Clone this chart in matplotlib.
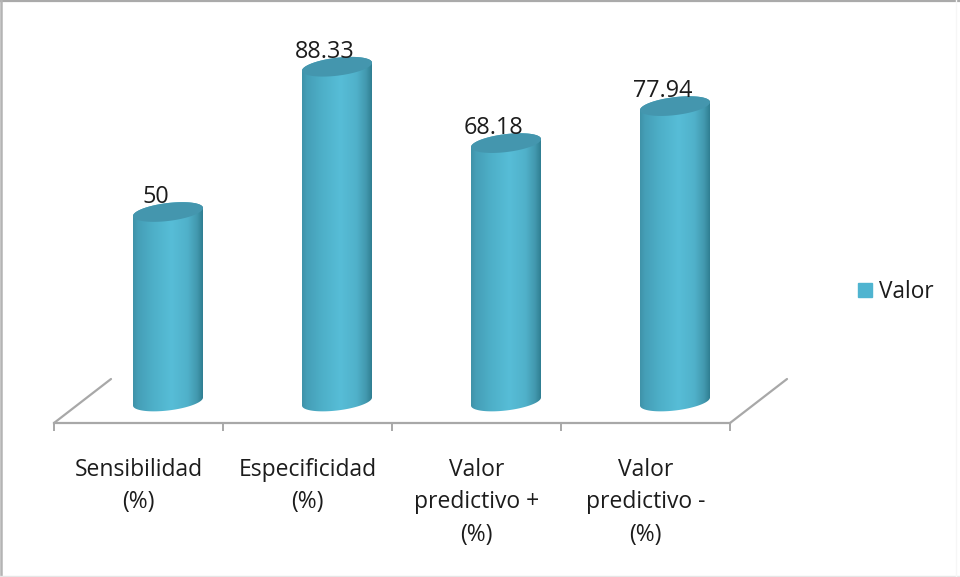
import numpy as np
import matplotlib
matplotlib.use("Agg")
import matplotlib.pyplot as plt
from matplotlib.colors import LinearSegmentedColormap
from matplotlib.lines import Line2D
from matplotlib.patches import Patch, Polygon

categories = ["Sensibilidad\n(%)", "Especificidad\n(%)", "Valor\npredictivo +\n(%)", "Valor\npredictivo -\n(%)"]
values = [50, 88.33, 68.18, 77.94]
value_labels = ["50", "88.33", "68.18", "77.94"]
series_name = "Valor"

W, H = 960, 577
PX_X = 169.0          # pixels per category
PX_Y = 3.79           # pixels per value unit
X0_PX = 138.5         # pixel of category 0
Y0_PX = 401.5         # pixel of value 0
px = 1 / PX_X
py = 1 / PX_Y

plt.rcParams["font.family"] = ["Open Sans", "DejaVu Sans"]
fig = plt.figure(figsize=(W / 100, H / 100), dpi=100, facecolor="white")
ax = fig.add_axes([0, 0, 1, 1])
ax.patch.set_alpha(0)

GRID = "#a8a8a8"
TEXT = "#1c1c1c"
floor_y = -21.5 * py
depth_x, depth_y = 57 * px, 44 * py

# Category axis on the front edge of the floor
for s in ("top", "left", "right"):
    ax.spines[s].set_visible(False)
ax.spines["bottom"].set_position(("data", floor_y))
ax.spines["bottom"].set_bounds(-0.5, 3.5)
ax.spines["bottom"].set_color(GRID)
ax.spines["bottom"].set_linewidth(1.6)
ax.set_yticks([])
ax.set_xticks(np.arange(-0.5, 4, 1))
ax.set_xticklabels([])
ax.tick_params(axis="x", which="major", length=6, width=1.4, color=GRID)
ax.set_xticks(range(len(categories)), minor=True)
ax.set_xticklabels(categories, minor=True, fontsize=16.5, color=TEXT, linespacing=1.47)
ax.tick_params(axis="x", which="minor", length=0, pad=25)

# Floor edges running to the back wall
for x_start in (-0.5, 3.5):
    ax.plot([x_start, x_start + depth_x], [floor_y, floor_y + depth_y],
            color=GRID, lw=1.6, solid_capstyle="round")

# Cylindrical bars with horizontal shading
shade = LinearSegmentedColormap.from_list("cyl", [
    (0.00, "#3f92a8"), (0.07, "#459fb7"), (0.30, "#4eb0c9"), (0.55, "#57bdd7"),
    (0.78, "#50b1ca"), (0.92, "#4298ae"), (1.00, "#2f7e91")])
gradient = np.linspace(0, 1, 256).reshape(1, -1)
radius = 35 * px
semi = 9.0 * py
tilt = 4.0 * py
offset_x = 29.5 * px
t = np.linspace(0, 2 * np.pi, 181)

for i, v in enumerate(values):
    cx = i + offset_x
    ex = cx + radius * np.cos(t)
    rim = semi * np.sin(t) + tilt * np.cos(t)
    front = (t >= np.pi)
    outline = np.r_[np.c_[cx + radius * np.cos(t[front]), 0 + rim[front]],
                    np.c_[cx + radius * np.cos(t[:91]), v + rim[:91]]]
    body = Polygon(outline, closed=True, transform=ax.transData, fc="none", ec="none")
    ax.add_patch(body)
    im = ax.imshow(gradient, cmap=shade, aspect="auto", zorder=2, interpolation="bilinear",
                   extent=(cx - radius, cx + radius, -semi - tilt, v + semi + tilt))
    im.set_clip_path(body)
    ax.fill(ex, v + rim, color="#4496ae", lw=0, zorder=3)
    ax.text(cx - 12.5 * px, v + 9 * py, value_labels[i], ha="center", va="baseline",
            fontsize=16.8, color=TEXT, zorder=4)

ax.set_xlim(-X0_PX * px, (W - X0_PX) * px)
ax.set_ylim((Y0_PX - H) * py, Y0_PX * py)

# Legend swatch and series name
ax.legend(handles=[Patch(color="#4fb4d0", label=series_name)], loc="center left",
          bbox_to_anchor=(853.5 / W, 1 - 292 / H), frameon=False, fontsize=16.3,
          labelcolor=TEXT, handlelength=0.62, handleheight=0.62, handletextpad=0.32,
          borderpad=0.2, borderaxespad=0)

# Chart border: strong on the top and left, faint along the bottom
fig.add_artist(Line2D([0, 1], [1 - 1 / H, 1 - 1 / H], color="#aaaaaa", lw=1.6))
fig.add_artist(Line2D([1 / W, 1 / W], [0, 1], color="#b4b4b4", lw=1.8))
fig.add_artist(Line2D([0, 1], [1 - 576 / H, 1 - 576 / H], color="#e6e6e6", lw=1.0))
fig.add_artist(Line2D([956 / W, 956 / W], [0, 1], color="#f6f6f6", lw=1.0))

fig.savefig("out.png", dpi=100)
